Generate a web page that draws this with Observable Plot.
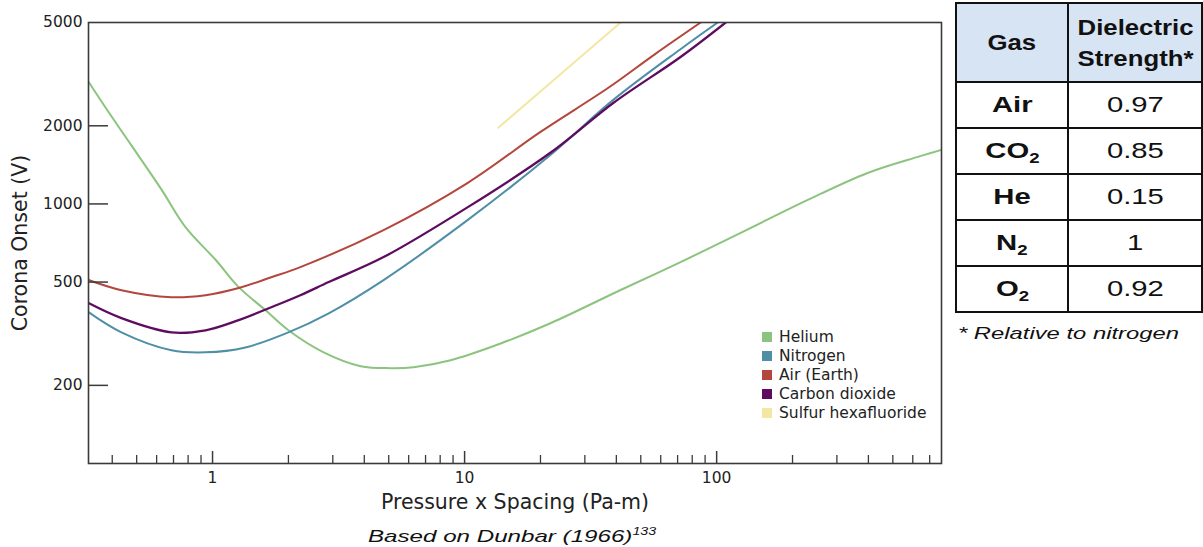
<!DOCTYPE html>
<html><head><meta charset="utf-8">
<script src="https://cdn.jsdelivr.net/npm/d3@7"></script>
<script src="https://cdn.jsdelivr.net/npm/@observablehq/plot@0.6"></script>
<style>
body{margin:0;background:#fff;}
#wrap{position:relative;width:1203px;height:547px;overflow:hidden;}
#chart{position:absolute;left:0;top:0;}
#legend{position:absolute;left:762px;top:327px;font-family:"DejaVu Sans",sans-serif;font-size:15.5px;color:#222;}
.li{height:19px;display:flex;align-items:center;white-space:nowrap;}
.sw{width:10px;height:10px;margin-right:7px;flex:none;}
#tbl{position:absolute;left:955px;top:2px;border-collapse:collapse;font-family:"Liberation Sans",Arial,sans-serif;color:#111;table-layout:fixed;}
#tbl th,#tbl td{border:2px solid #111;text-align:center;padding:0;}
#tbl th{background:#d7e4f4;height:77px;font-size:22px;font-weight:bold;line-height:31px;}
#tbl th .s{transform:scaleX(1.17);}
#tbl td{height:44px;font-size:22px;}
#tbl td.g{font-weight:bold;}
.s{display:inline-block;transform:scaleX(1.33);}
sub{font-size:14px;vertical-align:-5px;line-height:0;}
.cap{position:absolute;font-family:"Liberation Sans",Arial,sans-serif;font-style:italic;font-size:17px;color:#111;transform-origin:left center;white-space:nowrap;}
.cap sup{font-size:10px;line-height:0;}
</style></head>
<body><div id="wrap"><div id="chart"></div><div id="legend"></div><table id="tbl"></table>
<div class="cap" id="tcap" style="left:958px;top:324px;transform:scaleX(1.4);"></div>
<div class="cap" id="bcap" style="left:368px;top:527px;transform:scaleX(1.42);"></div>
</div>
<script>
// ---- data ----
const gases = ["Helium", "Nitrogen", "Air (Earth)", "Carbon dioxide", "Sulfur hexafluoride"];
const gasColors = ["#8cc47f", "#4f8fa6", "#b3473e", "#5e0b60", "#f4e7a3"];

const heliumPd = [0.322, 0.394, 0.622, 0.781, 1.03, 1.27, 1.62, 2.0, 2.76, 3.87, 5.09, 6.28, 8.8, 13.9, 21.9, 41.6, 71.9, 124, 230, 397, 628, 782];
const heliumV  = [2958, 2200, 1150, 814, 608, 478, 390, 326, 268, 237, 233, 235, 250, 290, 347, 466, 597, 772, 1036, 1316, 1518, 1616];

const nitrogenPd = [0.322, 0.435, 0.687, 0.938, 1.35, 2.0, 2.89, 4.77, 10.3, 21.9, 39.0, 71.9, 101];
const nitrogenV  = [383, 320, 273, 268, 280, 320, 379, 509, 868, 1544, 2522, 3946, 5000];

const airPd = [0.322, 0.435, 0.687, 0.938, 1.27, 1.71, 2.23, 4.77, 10.3, 20.0, 37.3, 56.8, 86.4];
const airV  = [509, 465, 437, 445, 474, 522, 571, 793, 1206, 1894, 2808, 3770, 5000];

const co2Pd = [0.322, 0.435, 0.687, 0.938, 1.27, 1.71, 2.23, 2.89, 4.77, 10.3, 21.9, 39.0, 71.9, 108.6];
const co2V  = [415, 363, 320, 326, 357, 400, 445, 500, 624, 972, 1574, 2454, 3683, 5000];

const sf6Pd = [13.6, 41.6];
const sf6V  = [1965, 5000];

const yTicks = [200, 500, 1000, 2000, 5000];
const xMajorTicks = [1, 10, 100];
const xMinorTicks = [0.4, 0.5, 0.6, 0.7, 0.8, 0.9, 2, 3, 4, 5, 6, 7, 8, 9, 20, 30, 40, 50, 60, 70, 80, 90, 200, 300, 400, 500, 600, 700];

const tableGas = ["Air", "CO", "He", "N", "O"];
const tableSub = ["", "2", "", "2", "2"];
const tableStrength = ["0.97", "0.85", "0.15", "1", "0.92"];

// ---- build ----
const series = [[heliumPd, heliumV], [nitrogenPd, nitrogenV], [airPd, airV], [co2Pd, co2V], [sf6Pd, sf6V]];
const rows = [];
series.forEach(([xs, ys], i) => xs.forEach((x, j) => rows.push({gas: gases[i], pd: x, v: ys[j]})));
const order = ["Helium", "Sulfur hexafluoride", "Nitrogen", "Air (Earth)", "Carbon dioxide"];

const axisColor = "#3a3a3a";
const plot = Plot.plot({
  width: 945, height: 510,
  marginLeft: 88, marginRight: 4, marginTop: 22, marginBottom: 47,
  style: {fontFamily: "DejaVu Sans, sans-serif", color: "#222", background: "transparent", overflow: "visible"},
  x: {type: "log", domain: [0.322, 780]},
  y: {type: "log", domain: [100, 5000]},
  color: {domain: gases, range: gasColors},
  marks: [
    ...order.map(g => Plot.line(rows.filter(r => r.gas === g), {x: "pd", y: "v", stroke: "gas", strokeWidth: g === "Carbon dioxide" ? 2.3 : 2, curve: "catmull-rom", clip: true})),
    Plot.ruleY(yTicks.filter(d => d < 5000), {stroke: axisColor, strokeWidth: 1.5, insetRight: 833}),
    Plot.ruleX(xMinorTicks, {stroke: axisColor, strokeWidth: 1.3, insetTop: 433}),
    Plot.ruleX(xMajorTicks, {stroke: axisColor, strokeWidth: 1.5, insetTop: 429}),
    Plot.frame({stroke: axisColor, strokeWidth: 1.6}),
    Plot.axisY({ticks: yTicks, tickSize: 0, tickPadding: 6, tickFormat: d => String(d), label: null, fontSize: 15.5}),
    Plot.axisX({ticks: xMajorTicks, tickSize: 0, tickPadding: 8, tickFormat: d => String(d), label: null, fontSize: 15.5}),
    Plot.axisY({ticks: [], label: "Corona Onset (V)", labelAnchor: "center", labelOffset: 76, labelArrow: "none", fontSize: 20.5}),
    Plot.axisX({ticks: [], label: "Pressure x Spacing (Pa-m)", labelAnchor: "center", labelOffset: 45, labelArrow: "none", fontSize: 20.5, dx: 8})
  ]
});
document.getElementById("chart").appendChild(plot);

// legend
const leg = document.getElementById("legend");
gases.forEach((g, i) => {
  const d = document.createElement("div"); d.className = "li";
  const sw = document.createElement("span"); sw.className = "sw"; sw.style.background = gasColors[i];
  const t = document.createElement("span"); t.textContent = g;
  d.appendChild(sw); d.appendChild(t); leg.appendChild(d);
});

// table
const tbl = document.getElementById("tbl");
tbl.innerHTML = '<colgroup><col style="width:113px"><col style="width:134px"></colgroup>' +
  '<tr><th><span class="s">Gas</span></th><th><span class="s">Dielectric<br>Strength*</span></th></tr>' +
  tableGas.map((g, i) => `<tr><td class="g"><span class="s">${g}${tableSub[i] ? "<sub>" + tableSub[i] + "</sub>" : ""}</span></td><td><span class="s">${tableStrength[i]}</span></td></tr>`).join("");

document.getElementById("tcap").textContent = "* Relative to nitrogen";
document.getElementById("bcap").innerHTML = "Based on Dunbar (1966)<sup>133</sup>";
</script>
</body></html>
